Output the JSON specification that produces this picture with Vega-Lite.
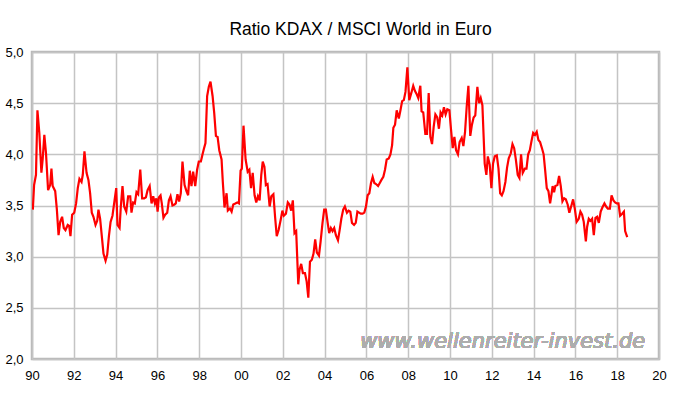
{
  "$schema": "https://vega.github.io/schema/vega-lite/v6.json",
  "width": 627,
  "height": 307,
  "autosize": {"type": "none"},
  "padding": {"left": 32, "top": 52, "right": 19, "bottom": 39},
  "background": "white",
  "title": {
    "text": "Ratio KDAX / MSCI World in Euro",
    "anchor": "middle",
    "dx": 15,
    "offset": 8,
    "font": "Liberation Sans",
    "fontSize": 17.5,
    "fontWeight": "normal",
    "color": "#000000"
  },
  "config": {
    "view": {"stroke": "#b8b8b8", "strokeWidth": 2.5},
    "axis": {
      "labelFont": "Liberation Sans",
      "labelFontSize": 13,
      "labelColor": "#000000",
      "gridColor": "#c4c4c4",
      "gridWidth": 1.5,
      "gridOpacity": 1,
      "domain": false,
      "ticks": false,
      "title": null
    }
  },
  "data": {
    "values": [
      {"t": 1990.04, "v": 3.46}, {"t": 1990.10, "v": 3.70}, {"t": 1990.19, "v": 3.80}, {"t": 1990.26, "v": 4.43},
      {"t": 1990.35, "v": 4.21}, {"t": 1990.45, "v": 3.82}, {"t": 1990.51, "v": 3.95}, {"t": 1990.59, "v": 4.19},
      {"t": 1990.67, "v": 4.01}, {"t": 1990.77, "v": 3.65}, {"t": 1990.87, "v": 3.70}, {"t": 1990.93, "v": 3.86},
      {"t": 1990.99, "v": 3.69}, {"t": 1991.11, "v": 3.64}, {"t": 1991.19, "v": 3.46}, {"t": 1991.27, "v": 3.21},
      {"t": 1991.35, "v": 3.34}, {"t": 1991.44, "v": 3.39}, {"t": 1991.52, "v": 3.28}, {"t": 1991.60, "v": 3.26},
      {"t": 1991.71, "v": 3.31}, {"t": 1991.78, "v": 3.30}, {"t": 1991.84, "v": 3.20}, {"t": 1991.92, "v": 3.41},
      {"t": 1992.02, "v": 3.43}, {"t": 1992.11, "v": 3.52}, {"t": 1992.19, "v": 3.67}, {"t": 1992.27, "v": 3.76},
      {"t": 1992.37, "v": 3.73}, {"t": 1992.43, "v": 3.80}, {"t": 1992.51, "v": 4.03}, {"t": 1992.61, "v": 3.82},
      {"t": 1992.70, "v": 3.75}, {"t": 1992.78, "v": 3.62}, {"t": 1992.86, "v": 3.43}, {"t": 1992.94, "v": 3.39},
      {"t": 1993.04, "v": 3.31}, {"t": 1993.12, "v": 3.35}, {"t": 1993.18, "v": 3.46}, {"t": 1993.26, "v": 3.37},
      {"t": 1993.34, "v": 3.20}, {"t": 1993.42, "v": 3.03}, {"t": 1993.52, "v": 2.96}, {"t": 1993.60, "v": 3.02},
      {"t": 1993.68, "v": 3.20}, {"t": 1993.76, "v": 3.34}, {"t": 1993.85, "v": 3.40}, {"t": 1993.93, "v": 3.52},
      {"t": 1994.03, "v": 3.67}, {"t": 1994.09, "v": 3.31}, {"t": 1994.19, "v": 3.28}, {"t": 1994.25, "v": 3.49},
      {"t": 1994.33, "v": 3.69}, {"t": 1994.41, "v": 3.49}, {"t": 1994.51, "v": 3.44}, {"t": 1994.60, "v": 3.59},
      {"t": 1994.70, "v": 3.59}, {"t": 1994.76, "v": 3.43}, {"t": 1994.84, "v": 3.53}, {"t": 1994.92, "v": 3.52},
      {"t": 1995.00, "v": 3.63}, {"t": 1995.08, "v": 3.61}, {"t": 1995.18, "v": 3.85}, {"t": 1995.27, "v": 3.57},
      {"t": 1995.37, "v": 3.57}, {"t": 1995.45, "v": 3.58}, {"t": 1995.53, "v": 3.65}, {"t": 1995.63, "v": 3.69},
      {"t": 1995.72, "v": 3.52}, {"t": 1995.80, "v": 3.59}, {"t": 1995.88, "v": 3.52}, {"t": 1995.95, "v": 3.57},
      {"t": 1996.01, "v": 3.44}, {"t": 1996.07, "v": 3.58}, {"t": 1996.15, "v": 3.60}, {"t": 1996.21, "v": 3.52},
      {"t": 1996.29, "v": 3.38}, {"t": 1996.37, "v": 3.41}, {"t": 1996.47, "v": 3.43}, {"t": 1996.55, "v": 3.55},
      {"t": 1996.63, "v": 3.59}, {"t": 1996.72, "v": 3.50}, {"t": 1996.82, "v": 3.51}, {"t": 1996.88, "v": 3.52},
      {"t": 1996.96, "v": 3.61}, {"t": 1997.04, "v": 3.54}, {"t": 1997.12, "v": 3.62}, {"t": 1997.20, "v": 3.93},
      {"t": 1997.30, "v": 3.70}, {"t": 1997.39, "v": 3.64}, {"t": 1997.47, "v": 3.60}, {"t": 1997.55, "v": 3.84},
      {"t": 1997.63, "v": 3.69}, {"t": 1997.71, "v": 3.83}, {"t": 1997.81, "v": 3.69}, {"t": 1997.90, "v": 3.85},
      {"t": 1997.98, "v": 3.93}, {"t": 1998.08, "v": 3.93}, {"t": 1998.16, "v": 4.00}, {"t": 1998.22, "v": 4.05},
      {"t": 1998.30, "v": 4.11}, {"t": 1998.38, "v": 4.57}, {"t": 1998.46, "v": 4.66}, {"t": 1998.54, "v": 4.71},
      {"t": 1998.64, "v": 4.57}, {"t": 1998.72, "v": 4.40}, {"t": 1998.80, "v": 4.18}, {"t": 1998.88, "v": 4.17},
      {"t": 1998.96, "v": 4.04}, {"t": 1999.07, "v": 3.95}, {"t": 1999.13, "v": 3.73}, {"t": 1999.21, "v": 3.48},
      {"t": 1999.31, "v": 3.62}, {"t": 1999.37, "v": 3.45}, {"t": 1999.47, "v": 3.47}, {"t": 1999.55, "v": 3.44},
      {"t": 1999.63, "v": 3.51}, {"t": 1999.73, "v": 3.52}, {"t": 1999.82, "v": 3.53}, {"t": 1999.90, "v": 3.52},
      {"t": 1999.98, "v": 3.84}, {"t": 2000.04, "v": 3.86}, {"t": 2000.12, "v": 4.28}, {"t": 2000.22, "v": 3.95},
      {"t": 2000.32, "v": 3.83}, {"t": 2000.40, "v": 3.85}, {"t": 2000.48, "v": 3.67}, {"t": 2000.56, "v": 3.82},
      {"t": 2000.65, "v": 3.60}, {"t": 2000.73, "v": 3.53}, {"t": 2000.81, "v": 3.59}, {"t": 2000.89, "v": 3.55},
      {"t": 2000.97, "v": 3.80}, {"t": 2001.04, "v": 3.93}, {"t": 2001.12, "v": 3.88}, {"t": 2001.19, "v": 3.70},
      {"t": 2001.27, "v": 3.71}, {"t": 2001.37, "v": 3.49}, {"t": 2001.45, "v": 3.59}, {"t": 2001.55, "v": 3.61},
      {"t": 2001.63, "v": 3.39}, {"t": 2001.71, "v": 3.20}, {"t": 2001.80, "v": 3.26}, {"t": 2001.90, "v": 3.36},
      {"t": 2001.98, "v": 3.45}, {"t": 2002.05, "v": 3.40}, {"t": 2002.15, "v": 3.42}, {"t": 2002.24, "v": 3.53},
      {"t": 2002.32, "v": 3.51}, {"t": 2002.40, "v": 3.45}, {"t": 2002.48, "v": 3.55}, {"t": 2002.56, "v": 3.23},
      {"t": 2002.64, "v": 3.25}, {"t": 2002.74, "v": 2.73}, {"t": 2002.80, "v": 2.87}, {"t": 2002.88, "v": 2.93},
      {"t": 2002.96, "v": 2.84}, {"t": 2003.06, "v": 2.84}, {"t": 2003.14, "v": 2.76}, {"t": 2003.22, "v": 2.60},
      {"t": 2003.30, "v": 2.95}, {"t": 2003.39, "v": 2.97}, {"t": 2003.47, "v": 3.03}, {"t": 2003.55, "v": 3.17},
      {"t": 2003.63, "v": 3.04}, {"t": 2003.73, "v": 3.01}, {"t": 2003.81, "v": 3.15}, {"t": 2003.90, "v": 3.33},
      {"t": 2003.98, "v": 3.46}, {"t": 2004.06, "v": 3.46}, {"t": 2004.14, "v": 3.34}, {"t": 2004.22, "v": 3.23},
      {"t": 2004.30, "v": 3.28}, {"t": 2004.38, "v": 3.25}, {"t": 2004.46, "v": 3.28}, {"t": 2004.54, "v": 3.21},
      {"t": 2004.64, "v": 3.16}, {"t": 2004.72, "v": 3.26}, {"t": 2004.80, "v": 3.37}, {"t": 2004.89, "v": 3.46},
      {"t": 2004.97, "v": 3.49}, {"t": 2005.07, "v": 3.43}, {"t": 2005.15, "v": 3.45}, {"t": 2005.23, "v": 3.44},
      {"t": 2005.31, "v": 3.33}, {"t": 2005.41, "v": 3.31}, {"t": 2005.49, "v": 3.33}, {"t": 2005.57, "v": 3.44},
      {"t": 2005.65, "v": 3.43}, {"t": 2005.73, "v": 3.42}, {"t": 2005.82, "v": 3.42}, {"t": 2005.90, "v": 3.43},
      {"t": 2005.98, "v": 3.49}, {"t": 2006.06, "v": 3.60}, {"t": 2006.14, "v": 3.62}, {"t": 2006.22, "v": 3.72},
      {"t": 2006.30, "v": 3.78}, {"t": 2006.38, "v": 3.72}, {"t": 2006.46, "v": 3.71}, {"t": 2006.56, "v": 3.69},
      {"t": 2006.64, "v": 3.72}, {"t": 2006.72, "v": 3.75}, {"t": 2006.81, "v": 3.78}, {"t": 2006.89, "v": 3.85},
      {"t": 2006.97, "v": 3.95}, {"t": 2007.07, "v": 3.96}, {"t": 2007.15, "v": 4.00}, {"t": 2007.23, "v": 4.09},
      {"t": 2007.29, "v": 4.26}, {"t": 2007.37, "v": 4.29}, {"t": 2007.45, "v": 4.43}, {"t": 2007.55, "v": 4.35},
      {"t": 2007.63, "v": 4.43}, {"t": 2007.71, "v": 4.52}, {"t": 2007.79, "v": 4.53}, {"t": 2007.87, "v": 4.61},
      {"t": 2007.96, "v": 4.85}, {"t": 2008.05, "v": 4.53}, {"t": 2008.15, "v": 4.60}, {"t": 2008.24, "v": 4.67},
      {"t": 2008.32, "v": 4.62}, {"t": 2008.40, "v": 4.59}, {"t": 2008.48, "v": 4.55}, {"t": 2008.58, "v": 4.67},
      {"t": 2008.64, "v": 4.42}, {"t": 2008.72, "v": 4.41}, {"t": 2008.82, "v": 4.20}, {"t": 2008.90, "v": 4.20},
      {"t": 2008.98, "v": 4.60}, {"t": 2009.06, "v": 4.17}, {"t": 2009.14, "v": 4.10}, {"t": 2009.22, "v": 4.27},
      {"t": 2009.30, "v": 4.39}, {"t": 2009.39, "v": 4.36}, {"t": 2009.47, "v": 4.25}, {"t": 2009.55, "v": 4.41},
      {"t": 2009.63, "v": 4.38}, {"t": 2009.71, "v": 4.46}, {"t": 2009.79, "v": 4.39}, {"t": 2009.87, "v": 4.44},
      {"t": 2009.97, "v": 4.43}, {"t": 2010.05, "v": 4.24}, {"t": 2010.13, "v": 4.06}, {"t": 2010.21, "v": 4.17},
      {"t": 2010.29, "v": 4.04}, {"t": 2010.38, "v": 4.00}, {"t": 2010.46, "v": 4.12}, {"t": 2010.56, "v": 4.16},
      {"t": 2010.64, "v": 4.08}, {"t": 2010.72, "v": 4.22}, {"t": 2010.80, "v": 4.47}, {"t": 2010.88, "v": 4.67},
      {"t": 2010.97, "v": 4.18}, {"t": 2011.05, "v": 4.29}, {"t": 2011.13, "v": 4.36}, {"t": 2011.21, "v": 4.38},
      {"t": 2011.31, "v": 4.66}, {"t": 2011.39, "v": 4.50}, {"t": 2011.47, "v": 4.55}, {"t": 2011.55, "v": 4.48},
      {"t": 2011.61, "v": 4.17}, {"t": 2011.66, "v": 3.91}, {"t": 2011.74, "v": 3.80}, {"t": 2011.81, "v": 3.98},
      {"t": 2011.90, "v": 3.90}, {"t": 2011.98, "v": 3.67}, {"t": 2012.06, "v": 3.91}, {"t": 2012.14, "v": 3.98},
      {"t": 2012.24, "v": 3.99}, {"t": 2012.32, "v": 3.86}, {"t": 2012.40, "v": 3.62}, {"t": 2012.48, "v": 3.60},
      {"t": 2012.56, "v": 3.64}, {"t": 2012.65, "v": 3.73}, {"t": 2012.73, "v": 3.87}, {"t": 2012.81, "v": 3.96},
      {"t": 2012.91, "v": 4.01}, {"t": 2012.99, "v": 4.10}, {"t": 2013.07, "v": 4.06}, {"t": 2013.15, "v": 3.95},
      {"t": 2013.24, "v": 3.80}, {"t": 2013.32, "v": 3.77}, {"t": 2013.40, "v": 4.00}, {"t": 2013.48, "v": 3.82},
      {"t": 2013.58, "v": 3.86}, {"t": 2013.66, "v": 3.86}, {"t": 2013.74, "v": 4.00}, {"t": 2013.82, "v": 4.04},
      {"t": 2013.90, "v": 4.13}, {"t": 2013.98, "v": 4.21}, {"t": 2014.07, "v": 4.19}, {"t": 2014.15, "v": 4.22},
      {"t": 2014.23, "v": 4.14}, {"t": 2014.31, "v": 4.12}, {"t": 2014.40, "v": 4.06}, {"t": 2014.48, "v": 4.00},
      {"t": 2014.55, "v": 3.85}, {"t": 2014.63, "v": 3.67}, {"t": 2014.71, "v": 3.64}, {"t": 2014.79, "v": 3.52},
      {"t": 2014.85, "v": 3.60}, {"t": 2014.91, "v": 3.69}, {"t": 2014.98, "v": 3.63}, {"t": 2015.04, "v": 3.69},
      {"t": 2015.14, "v": 3.70}, {"t": 2015.22, "v": 3.79}, {"t": 2015.30, "v": 3.69}, {"t": 2015.38, "v": 3.54},
      {"t": 2015.46, "v": 3.57}, {"t": 2015.54, "v": 3.56}, {"t": 2015.63, "v": 3.51}, {"t": 2015.71, "v": 3.43},
      {"t": 2015.81, "v": 3.50}, {"t": 2015.89, "v": 3.56}, {"t": 2015.97, "v": 3.47}, {"t": 2016.06, "v": 3.34},
      {"t": 2016.16, "v": 3.37}, {"t": 2016.24, "v": 3.44}, {"t": 2016.32, "v": 3.41}, {"t": 2016.40, "v": 3.34},
      {"t": 2016.50, "v": 3.15}, {"t": 2016.56, "v": 3.29}, {"t": 2016.64, "v": 3.37}, {"t": 2016.72, "v": 3.35},
      {"t": 2016.80, "v": 3.37}, {"t": 2016.88, "v": 3.21}, {"t": 2016.96, "v": 3.38}, {"t": 2017.04, "v": 3.39},
      {"t": 2017.12, "v": 3.33}, {"t": 2017.21, "v": 3.44}, {"t": 2017.29, "v": 3.48}, {"t": 2017.39, "v": 3.52},
      {"t": 2017.47, "v": 3.49}, {"t": 2017.55, "v": 3.47}, {"t": 2017.65, "v": 3.47}, {"t": 2017.73, "v": 3.60},
      {"t": 2017.82, "v": 3.55}, {"t": 2017.90, "v": 3.53}, {"t": 2017.98, "v": 3.52}, {"t": 2018.06, "v": 3.52},
      {"t": 2018.14, "v": 3.40}, {"t": 2018.24, "v": 3.42}, {"t": 2018.32, "v": 3.44}, {"t": 2018.38, "v": 3.25},
      {"t": 2018.48, "v": 3.19}
    ]
  },
  "layer": [
    {
      "mark": {"type": "line", "color": "#ff0000", "strokeWidth": 2.2, "clip": true},
      "encoding": {
        "x": {
          "field": "t",
          "type": "quantitative",
          "scale": {"domain": [1990, 2020], "nice": false, "zero": false},
          "axis": {
            "values": [1990, 1992, 1994, 1996, 1998, 2000, 2002, 2004, 2006, 2008, 2010, 2012, 2014, 2016, 2018, 2020],
            "labelExpr": "slice(toString(datum.value), 2)",
            "labelPadding": 10,
            "labelFlush": false
          }
        },
        "y": {
          "field": "v",
          "type": "quantitative",
          "scale": {"domain": [2, 5], "nice": false, "zero": false},
          "axis": {
            "values": [2, 2.5, 3, 3.5, 4, 4.5, 5],
            "labelExpr": "replace(format(datum.value, '.1f'), '.', ',')",
            "labelPadding": 9,
            "labelFlush": false
          }
        }
      }
    },
    {
      "mark": {
        "type": "text",
        "text": "www.wellenreiter-invest.de",
        "font": "DejaVu Sans",
        "fontStyle": "italic",
        "fontSize": 21,
        "color": "#adadad",
        "align": "right",
        "baseline": "alphabetic"
      },
      "encoding": {
        "x": {"datum": 2019.34, "type": "quantitative"},
        "y": {"datum": 2.11, "type": "quantitative"}
      }
    }
  ]
}
